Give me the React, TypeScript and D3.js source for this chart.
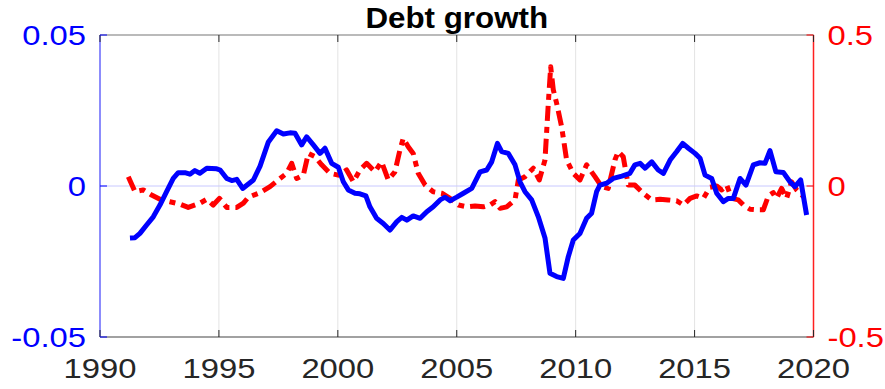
import React from "react";
import * as d3 from "d3";

const blueYears = [1991.26,1991.47,1991.68,1991.96,1992.24,1992.52,1992.8,1993.08,1993.29,1993.57,1993.78,1993.99,1994.2,1994.49,1994.91,1995.05,1995.33,1995.54,1995.75,1996.0,1996.45,1996.73,1997.08,1997.43,1997.71,1997.99,1998.2,1998.48,1998.69,1998.97,1999.25,1999.46,1999.74,2000.02,2000.23,2000.44,2000.72,2000.93,2001.18,2001.35,2001.63,2001.91,2002.19,2002.48,2002.69,2002.9,2003.17,2003.46,2003.74,2004.01,2004.3,2004.51,2004.72,2005.0,2005.28,2005.63,2005.98,2006.26,2006.47,2006.71,2006.89,2007.17,2007.45,2007.66,2007.87,2008.15,2008.43,2008.71,2008.92,2009.2,2009.48,2009.69,2009.9,2010.18,2010.46,2010.67,2010.88,2011.02,2011.3,2011.58,2011.94,2012.28,2012.49,2012.71,2012.92,2013.2,2013.47,2013.69,2013.97,2014.25,2014.5,2014.74,2015.02,2015.23,2015.44,2015.72,2015.93,2016.21,2016.42,2016.63,2016.91,2017.16,2017.47,2017.75,2017.96,2018.17,2018.42,2018.73,2019.01,2019.22,2019.46,2019.71];
const blueValues = [-0.0172,-0.0171,-0.0157,-0.0129,-0.0102,-0.0063,-0.0019,0.0025,0.0044,0.0044,0.0039,0.0051,0.0042,0.0059,0.0057,0.0053,0.0025,0.0018,0.0022,-0.0008,0.002,0.0066,0.0146,0.0183,0.0172,0.0176,0.0175,0.0136,0.0163,0.0136,0.0108,0.0125,0.0075,0.0062,0.0014,-0.0013,-0.0024,-0.0026,-0.0033,-0.0069,-0.0107,-0.0124,-0.0146,-0.0118,-0.0104,-0.0113,-0.0099,-0.0107,-0.0085,-0.0069,-0.0046,-0.0037,-0.0049,-0.0037,-0.0024,-0.0008,0.0047,0.0053,0.008,0.0141,0.0114,0.0108,0.007,0.0014,-0.0019,-0.0046,-0.0102,-0.0172,-0.0289,-0.03,-0.0306,-0.0234,-0.0179,-0.0157,-0.0107,-0.009,-0.0019,0.0003,0.0009,0.0025,0.0033,0.0042,0.007,0.0075,0.0059,0.008,0.0053,0.0042,0.0086,0.0114,0.0141,0.0125,0.0108,0.0092,0.0036,0.0025,-0.0024,-0.0052,-0.0041,-0.0041,0.0025,0.0003,0.007,0.0077,0.0075,0.0117,0.0047,0.0045,0.0014,-0.0002,0.002,-0.0096];

const redYears = [1991.19,1991.47,1991.82,1992.17,1992.52,1992.94,1993.36,1993.71,1994.2,1994.49,1994.76,1995.02,1995.33,1995.75,1996.03,1996.24,1996.73,1997.15,1997.57,1997.85,1998.06,1998.27,1998.55,1998.76,1999.04,1999.32,1999.67,2000.02,2000.37,2000.65,2000.93,2001.21,2001.56,2001.84,2002.12,2002.4,2002.61,2002.75,2002.96,2003.17,2003.38,2003.67,2004.01,2004.37,2004.72,2005.07,2005.42,2005.77,2006.12,2006.4,2006.61,2006.82,2007.1,2007.45,2007.59,2007.87,2008.22,2008.47,2008.71,2008.85,2008.95,2009.06,2009.2,2009.41,2009.62,2009.9,2010.18,2010.46,2010.81,2011.09,2011.37,2011.65,2011.79,2012.0,2012.21,2012.49,2012.84,2013.2,2013.55,2013.89,2014.25,2014.53,2014.81,2015.09,2015.37,2015.65,2015.93,2016.14,2016.35,2016.56,2016.84,2017.05,2017.33,2017.61,2017.89,2018.1,2018.31,2018.45,2018.66,2018.87,2019.08,2019.29,2019.57];
const redValues = [0.031,-0.019,-0.013,-0.03,-0.044,-0.052,-0.06,-0.071,-0.057,-0.044,-0.063,-0.041,-0.071,-0.071,-0.057,-0.037,-0.022,-0.002,0.025,0.042,0.075,0.025,0.036,0.108,0.097,0.07,0.042,0.036,0.053,0.014,0.053,0.075,0.047,0.08,0.02,0.047,0.119,0.158,0.13,0.108,0.042,0.003,-0.019,-0.024,-0.041,-0.063,-0.069,-0.066,-0.069,-0.063,-0.052,-0.074,-0.069,-0.046,0.02,0.031,0.059,0.02,0.086,0.274,0.395,0.318,0.274,0.196,0.086,0.042,0.02,0.07,0.031,-0.002,-0.008,0.086,0.114,0.097,0.003,0.003,-0.024,-0.046,-0.044,-0.046,-0.049,-0.063,-0.041,-0.033,-0.041,-0.004,0.0,-0.013,0.003,-0.041,-0.046,-0.063,-0.077,-0.079,-0.079,-0.033,-0.022,-0.041,-0.008,-0.041,0.014,-0.013,-0.035];

const xTicks = [1990, 1995, 2000, 2005, 2010, 2015, 2020];
const leftTicks = [-0.05, 0, 0.05];
const leftTickLabels = ["-0.05", "0", "0.05"];
const rightTicks = [-0.5, 0, 0.5];
const rightTickLabels = ["-0.5", "0", "0.5"];
const title = "Debt growth";

const W = 885, H = 389;
const L = 100, R = 813.5, T = 35, B = 337;
const FONT = "'Liberation Sans', Arial, Helvetica, sans-serif";
const SX = 1.17;

export default function App() {
  const x = d3.scaleLinear().domain([1990, 2020]).range([L, R]);
  const yL = d3.scaleLinear().domain([-0.05, 0.05]).range([B, T]);
  const yR = d3.scaleLinear().domain([-0.5, 0.5]).range([B, T]);

  const blueLine = d3.line<number>()
    .x((_, i) => x(blueYears[i]))
    .y((d) => yL(d))(blueValues) || "";
  const redLine = d3.line<number>()
    .x((_, i) => x(redYears[i]))
    .y((d) => yR(d))(redValues) || "";

  const lbl = (tx: number, ty: number, text: string, anchor: string, color: string, size = 28, weight = "normal", sx = SX) => (
    <text
      key={text + tx + ty}
      transform={`translate(${tx},${ty}) scale(${sx},1)`}
      textAnchor={anchor as any}
      fill={color}
      fontSize={size}
      fontWeight={weight}
      fontFamily={FONT}
    >
      {text}
    </text>
  );

  return (
    <svg width={W} height={H} style={{ position: "absolute", left: 0, top: 0, background: "#fff" }}>
      <rect x={0} y={0} width={W} height={H} fill="#fff" />
      {xTicks.map((t) => (
        <line key={"g" + t} x1={x(t)} x2={x(t)} y1={T} y2={B} stroke="#e3e3e3" strokeWidth={1} />
      ))}
      <line x1={L} x2={R} y1={yL(0)} y2={yL(0)} stroke="#c8c8ff" strokeWidth={1} />

      <path d={redLine} fill="none" stroke="#ff0000" strokeWidth={5} strokeDasharray="15,6,6,6" strokeLinejoin="round" />
      <path d={blueLine} fill="none" stroke="#0000ff" strokeWidth={5} strokeLinejoin="round" />

      <line x1={L} x2={R} y1={T} y2={T} stroke="#777" strokeWidth={1.2} />
      <line x1={L} x2={R} y1={B} y2={B} stroke="#444" strokeWidth={1.2} />
      <line x1={L} x2={L} y1={T} y2={B} stroke="#6a6aff" strokeWidth={1.5} />
      <line x1={R} x2={R} y1={T} y2={B} stroke="#ff2020" strokeWidth={1.5} />

      {xTicks.map((t) => (
        <g key={"t" + t}>
          <line x1={x(t)} x2={x(t)} y1={B} y2={B - 7} stroke="#262626" strokeWidth={1} />
          <line x1={x(t)} x2={x(t)} y1={T} y2={T + 7} stroke="#262626" strokeWidth={1} />
        </g>
      ))}
      {leftTicks.map((t) => (
        <line key={"lt" + t} x1={L} x2={L + 7} y1={yL(t)} y2={yL(t)} stroke="#0000ff" strokeWidth={1} />
      ))}
      {rightTicks.map((t) => (
        <line key={"rt" + t} x1={R} x2={R - 7} y1={yR(t)} y2={yR(t)} stroke="#ff0000" strokeWidth={1} />
      ))}

      {xTicks.map((t) => lbl(x(t), 378, String(t), "middle", "#262626"))}
      {leftTicks.map((t, i) => lbl(86, yL(t) + 10, leftTickLabels[i], "end", "#0000ff"))}
      {rightTicks.map((t, i) => lbl(R + 14, yR(t) + 10, rightTickLabels[i], "start", "#ff0000"))}
      {lbl((L + R) / 2, 28, title, "middle", "#000", 29, "bold", 1.08)}
    </svg>
  );
}
